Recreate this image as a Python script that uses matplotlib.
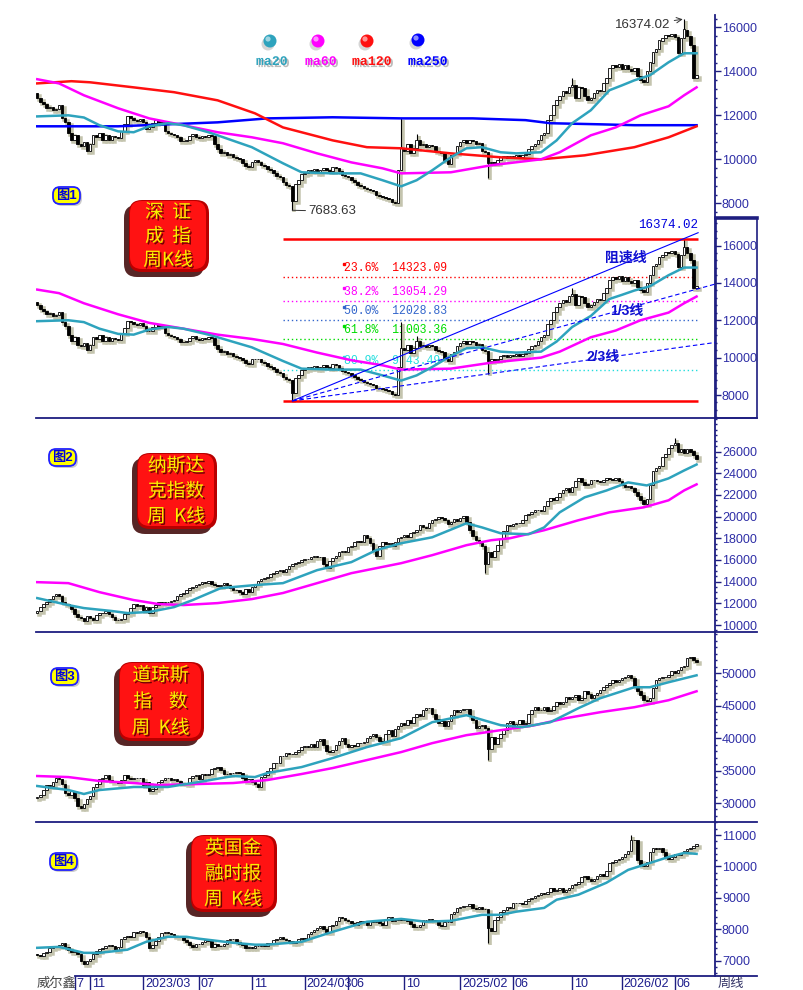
import numpy as np
import matplotlib
matplotlib.use("Agg")
import matplotlib.pyplot as plt
import matplotlib.patheffects as pe
from matplotlib.patches import FancyBboxPatch, Circle, Rectangle
from matplotlib.ticker import MultipleLocator, FixedLocator, FormatStrFormatter
from matplotlib.transforms import offset_copy, blended_transform_factory

plt.rcParams['font.family'] = ['Liberation Sans', 'Noto Sans CJK SC', 'DejaVu Sans']

# weekly closes, week 0 = first week of July 2022
sz_close = [
    12800, 12600, 12500, 12350, 12400, 12250, 12300, 12450, 11900, 11700,
    11200, 10900, 11100, 10700, 10600, 10800, 10400, 10700, 11100, 11000,
    11200, 10900, 11100, 10900, 11050, 11000, 10950, 11300, 11600, 11950,
    11900, 11800, 11750, 11850, 11700, 11400, 11450, 11650, 11800, 11700,
    11750, 11300, 11200, 11150, 11100, 11000, 10850, 10820, 10900, 11050,
    11150, 11000, 10950, 11050, 11000, 11100, 11050, 10700, 10450, 10300,
    10350, 10200, 10250, 10100, 10050, 10000, 9850, 9700, 9650, 9900,
    9950, 9900, 9750, 9700, 9550, 9500, 9400, 9250, 9200, 8950,
    8850, 8800, 8100, 8900, 9050, 9350, 9400, 9500, 9450, 9550,
    9400, 9500, 9600, 9500, 9450, 9650, 9600, 9450, 9300, 9250,
    9200, 9050, 8950, 8850, 8800, 8700, 8650, 8600, 8550, 8400,
    8350, 8300, 8250, 8200, 8050, 8000, 9500, 10530, 10400, 10700,
    10270, 10500, 10900, 10640, 10700, 10550, 10650, 10600, 10400, 10350,
    10300, 9950, 9800, 10200, 10300, 10600, 10800, 10900, 10750, 10900,
    10850, 10700, 10750, 10400, 10350, 9820, 9900, 9850, 9950, 10100,
    10150, 10050, 10150, 10100, 10200, 10100, 10200, 10250, 10450, 10600,
    10700, 10900, 11100, 11200, 11800, 12000, 12450, 12700, 12900, 13100,
    13000, 13300, 13400, 12800, 13300, 13250, 12900, 12700, 12800, 13000,
    13150, 13100, 13450, 13700, 14150, 14300, 14200, 14350, 14100, 14300,
    14100, 14000, 14150, 13800, 13600, 13500, 14000, 14400, 14900, 15000,
    15400, 15500, 15650, 15600, 15700, 15550, 14850, 15500, 15900, 15600,
    15200, 13700, 13850]
sz_open0 = 13000
sz_high = {117: 11900, 122: 11150, 172: 13700, 208: 16374.02}
sz_low = {82: 7683.63, 145: 9140}

nq_close = [
    11300, 11650, 11900, 12100, 12400, 12650, 12900, 12700, 12150, 11900,
    11800, 11450, 11000, 10700, 10600, 10350, 10800, 10650, 10500, 10900,
    11150, 11100, 11300, 11000, 10700, 10500, 10450, 10550, 11050, 11150,
    11600, 11950, 11750, 11800, 11400, 11650, 11100, 11650, 11850, 12100,
    12050, 12100, 12150, 12250, 12300, 12650, 12850, 12950, 13250, 13400,
    13550, 13700, 13800, 14000, 13900, 14050, 13750, 13650, 13600, 13700,
    13850, 13700, 13400, 13250, 13200, 13050, 12900, 13350, 13050, 13550,
    13800, 14100, 14250, 14300, 14450, 14700, 14800, 14950, 15050, 14900,
    15150, 15450, 15650, 15700, 15850, 16000, 16100, 16050, 16250, 16350,
    16250, 16300, 15650, 15300, 15900, 16200, 16400, 16750, 16850, 16750,
    17150, 17300, 17650, 17750, 17700, 18300, 18000, 17550, 16850, 16400,
    17300, 17650, 17450, 17600, 17300, 17700, 18000, 18150, 18300, 18100,
    18450, 18600, 18800, 19200, 19000, 18950, 19400, 19700, 19800, 20000,
    19900, 19650, 19300, 19500, 19800, 19600, 19900, 20050, 19500, 18800,
    18200, 17800, 17600, 17300, 15600, 16700, 16300, 16800, 17400, 17900,
    18700, 19200, 19100, 19300, 19400, 19450, 19650, 20100, 20250, 20400,
    20600, 20650, 20550, 21000, 21450, 21700, 21500, 21800, 22200, 22450,
    22600, 22300, 22700, 23300, 23600, 23200, 22900, 23000, 23400, 23350,
    23300, 23200, 23400, 23550, 23500, 23400, 23600, 23300, 22900, 22700,
    22800, 22600, 22300, 21900, 21500, 21200, 21600, 22900, 24200, 24500,
    24700, 25500, 25800, 26300, 26600, 26800, 26000, 26200, 25900, 26250,
    26000, 25700, 25300]
nq_open0 = 11100
nq_high = {205: 27290}
nq_low = {144: 14780, 196: 21030}

dj_close = [
    31000, 31300, 32000, 32800, 32600, 33300, 33800, 33700, 33000, 31500,
    31300, 31800, 30800, 29600, 29300, 29900, 30600, 31100, 32500, 32900,
    33700, 33800, 34300, 33500, 33300, 33200, 33100, 33600, 34300, 33900,
    33700, 33900, 33900, 33800, 32800, 33300, 31900, 32200, 32500, 33300,
    33500, 33800, 33800, 33600, 33700, 33400, 33100, 33100, 33000, 33800,
    34100, 34300, 33700, 34400, 34300, 34500, 35200, 35400, 35500, 35100,
    34500, 34400, 34600, 34600, 34800, 34600, 33900, 33400, 33700, 33300,
    33000, 32400, 34000, 34300, 35000, 35400, 36200, 36200, 37200, 37300,
    37700, 37500, 37600, 37900, 38100, 38700, 38800, 38600, 39100, 38700,
    39500, 39800, 38900, 38000, 37900, 38200, 39000, 39500, 40000, 39100,
    38700, 38900, 38800, 39200, 39300, 39400, 40000, 40300, 40600, 40200,
    39500, 39400, 40700, 41200, 40300, 41400, 41900, 42300, 42100, 42800,
    42400, 43200, 43800, 43400, 44300, 44600, 44700, 43800, 43000, 42300,
    42700, 41900, 42600, 43500, 44400, 44100, 44300, 44500, 44500, 43400,
    42800, 41500, 41900, 42000, 41600, 38300, 40200, 39100, 40100, 40700,
    41300, 42400, 42700, 41600, 42200, 42800, 42200, 42300, 43800, 44300,
    44800, 44400, 44300, 44800, 44200, 44300, 44900, 45600, 45300, 45600,
    46300, 46000, 46300, 46700, 45900, 46200, 47200, 46800, 46200, 46700,
    47000, 47500, 47900, 48200, 48500, 48900, 48700, 49000, 49200, 49400,
    49700, 49300, 48100, 47200, 46600, 45900, 45800, 46200, 47700, 48900,
    49300, 49400, 49500, 49800, 50300, 50100, 50500, 51000, 51200, 52300,
    52500, 52100, 51700]
dj_open0 = 30800
dj_high = {}
dj_low = {145: 36610}

ft_close = [
    7170, 7160, 7250, 7290, 7420, 7440, 7470, 7500, 7550, 7450,
    7350, 7280, 7300, 7200, 6990, 6900, 7000, 7050, 7200, 7300,
    7380, 7400, 7470, 7500, 7480, 7330, 7450, 7700, 7750, 7800,
    7770, 7900, 7880, 7950, 7920, 7750, 7400, 7500, 7620, 7750,
    7880, 7910, 7870, 7850, 7780, 7750, 7760, 7650, 7600, 7500,
    7450, 7520, 7530, 7600, 7650, 7640, 7430, 7520, 7470, 7460,
    7530, 7650, 7690, 7700, 7600, 7540, 7500, 7400, 7450, 7420,
    7460, 7480, 7500, 7480, 7550, 7570, 7650, 7700, 7750, 7690,
    7650, 7620, 7560, 7610, 7680, 7720, 7700, 7850, 7900, 7980,
    8050, 8100, 8000, 7900, 8100, 8150, 8250, 8400, 8350, 8300,
    8250, 8200, 8150, 8240, 8250, 8220, 8150, 8250, 8240, 8300,
    8200, 8150, 8300, 8380, 8270, 8300, 8320, 8290, 8320, 8250,
    8180, 8080, 8060, 8150, 8300, 8290, 8320, 8300, 8250, 8130,
    8100, 8220, 8240, 8500, 8550, 8670, 8700, 8750, 8730, 8800,
    8680, 8650, 8700, 8640, 8650, 8050, 7960, 8280, 8400, 8550,
    8600, 8700, 8680, 8840, 8830, 8850, 8800, 8900, 8950, 8980,
    9050, 9100, 9150, 9130, 9200, 9300, 9220, 9250, 9300, 9200,
    9250, 9300, 9420, 9450, 9500, 9650, 9700, 9600, 9550, 9600,
    9700, 9750, 9700, 9850, 10100, 10150, 10200, 10250, 10300, 10400,
    10500, 10850, 10850, 10200, 10050, 10000, 10150, 10450, 10600, 10550,
    10580, 10450, 10300, 10250, 10300, 10380, 10350, 10420, 10500, 10550,
    10600, 10650, 10720]
ft_open0 = 7200
ft_high = {191: 11000}
ft_low = {145: 7570}

# moving averages (week, value)
sz_wk_ma20 = [0, 10, 15, 20, 26, 31, 36, 42, 47, 55, 58, 69, 79, 85, 95, 104, 111, 117, 122, 127,
              133, 138, 143, 149, 154, 162, 167, 172, 178, 184, 188, 192, 197, 203, 208, 212]
sz_ma20 = [11950, 12000, 11900, 11550, 11270, 11230, 11500, 11640, 11550, 11230, 11090, 10550, 9820,
           9410, 9360, 9360, 9050, 8770, 9050, 9500, 10090, 10500, 10550, 10320, 10270, 10320, 10860,
           11640, 12230, 13140, 13360, 13590, 13820, 14410, 14820, 14820]
sz_wk_ma60 = [0, 7, 15, 26, 36, 47, 58, 69, 79, 90, 101, 111, 117, 133, 146, 162, 168, 178, 186, 194,
              203, 208, 212]
sz_ma60 = [13640, 13450, 12910, 12320, 11860, 11550, 11230, 11000, 10730, 10270, 9860, 9590, 9360,
           9410, 9730, 10000, 10320, 11090, 11450, 12000, 12410, 12910, 13270]
sz_wk_ma120 = [0, 11, 17, 31, 44, 58, 70, 79, 95, 106, 117, 133, 149, 162, 176, 192, 203, 212]
sz_ma120 = [13450, 13550, 13500, 13270, 13050, 12680, 12090, 11450, 10860, 10550, 10500, 10270,
            10090, 10000, 10180, 10550, 11000, 11500]
sz_wk_ma250 = [0, 26, 42, 58, 74, 95, 117, 140, 157, 165, 181, 192, 212]
sz_ma250 = [11500, 11500, 11590, 11680, 11860, 11910, 11860, 11860, 11780, 11640, 11590, 11550, 11550]

nq_wk_ma20 = [0, 10, 15, 24, 29, 36, 44, 50, 59, 70, 79, 90, 101, 109, 117, 127, 138, 143, 149, 158,
              163, 168, 176, 183, 190, 196, 203, 208, 212]
nq_ma20 = [12480, 11840, 11560, 11290, 11100, 11200, 11650, 12300, 13400, 13680, 13860, 15060, 15800,
           16900, 17540, 18090, 19380, 19000, 18460, 18370, 19000, 20390, 21770, 22400, 23150, 22870,
           23520, 24250, 24800]
nq_wk_ma60 = [0, 10, 20, 31, 39, 47, 58, 69, 79, 90, 101, 117, 127, 138, 146, 152, 163, 174, 184, 195,
              203, 208, 212]
nq_ma60 = [13950, 13860, 13030, 12300, 11930, 11840, 12020, 12390, 12950, 13860, 14780, 15700, 16440,
           17360, 17820, 18000, 18740, 19660, 20390, 20850, 21500, 22410, 22970]

dj_wk_ma20 = [0, 10, 15, 20, 31, 42, 52, 63, 70, 74, 85, 95, 106, 117, 127, 138, 149, 156, 165, 174,
              181, 192, 197, 203, 212]
dj_ma20 = [32620, 32000, 31390, 32000, 32470, 32470, 33240, 34160, 34000, 34620, 35540, 36930, 38620,
           40000, 42460, 43540, 42000, 41700, 42460, 44620, 46150, 47850, 47850, 48620, 49690]
dj_wk_ma60 = [0, 10, 20, 31, 39, 52, 63, 74, 85, 95, 106, 117, 127, 138, 149, 160, 170, 181, 192, 203, 212]
dj_ma60 = [34160, 34000, 33390, 33080, 32770, 32930, 33080, 33540, 34470, 35390, 36620, 37850, 39230,
           40460, 41230, 42000, 43080, 44000, 44770, 45850, 47230]

ft_wk_ma20 = [0, 7, 15, 20, 29, 35, 42, 48, 52, 63, 70, 74, 85, 95, 106, 117, 125, 133, 143, 149,
              154, 163, 167, 174, 183, 190, 197, 203, 208, 212]
ft_ma20 = [7410, 7440, 7250, 7250, 7350, 7600, 7760, 7760, 7700, 7570, 7510, 7510, 7600, 7920, 8240,
           8330, 8240, 8270, 8460, 8460, 8560, 8680, 8940, 9100, 9480, 9890, 10110, 10300, 10430, 10400]

fib_pcts = [23.6, 38.2, 50.0, 61.8, 80.9]
fib_colors = ['#ff0000', '#ff00ff', '#3366cc', '#00dd00', '#22dddd']
fib_x0 = 79

sz_ticks = [8000, 10000, 12000, 14000, 16000]
nq_ticks = [10000, 12000, 14000, 16000, 18000, 20000, 22000, 24000, 26000]
dj_ticks = [30000, 35000, 40000, 45000, 50000]
ft_ticks = [7000, 8000, 9000, 10000, 11000]

xt_weeks = [12, 17, 34, 52, 69, 86, 100, 118, 136, 153, 172, 188, 205]
xt_labels = ['7', '11', '2023/03', '07', '11', '2024/03', '06', '10', '2025/02', '06', '10', '2026/02', '06']

C20, C60, C120, C250 = '#2ea3bd', '#ff00ff', '#ff1010', '#0000ff'
NAVY = '#1e1e80'
TICKC = '#2e2ea6'
SHADOW = '#c4c4ae'

W, H = 804, 990
L, R = 36, 715
PXW = 3.11
fig = plt.figure(figsize=(W / 100, H / 100), dpi=100)


def panel(top, bot, ref, ticks, minor):
    (v1, y1), (v2, y2) = ref
    per = (v1 - v2) / (y2 - y1)
    ax = fig.add_axes([L / W, 1 - bot / H, (R - L) / W, (bot - top) / H])
    ax.set_xlim(-0.4, -0.4 + (R - L) / PXW)
    ax.set_ylim(v2 - (bot - y2) * per, v1 + (y1 - top) * per)
    ax.set_autoscale_on(False)
    ax.patch.set_alpha(0)
    for s in ['left', 'top', 'bottom']:
        ax.spines[s].set_visible(False)
    ax.spines['right'].set_color(NAVY)
    ax.spines['right'].set_linewidth(1.3)
    ax.set_xticks([])
    ax.yaxis.tick_right()
    ax.yaxis.set_major_locator(FixedLocator(ticks))
    ax.yaxis.set_minor_locator(MultipleLocator(minor))
    ax.yaxis.set_major_formatter(FormatStrFormatter('%d'))
    ax.tick_params(axis='y', which='major', direction='out', length=4, width=1, color=NAVY,
                   labelsize=9, labelcolor=TICKC, pad=1)
    ax.tick_params(axis='y', which='minor', direction='out', length=1.5, width=1, color=NAVY)
    return ax


def candles(ax, close, open0, high, low):
    c = np.asarray(close, float)
    o = np.concatenate([[open0], c[:-1]])
    h = np.maximum(o, c)
    lo = np.minimum(o, c)
    for k, v in high.items():
        h[k] = v
    for k, v in low.items():
        lo[k] = v
    x = np.arange(len(c))
    sh = offset_copy(ax.transData, fig=fig, x=2, y=-2, units='dots')
    ax.vlines(x, lo, h, colors=SHADOW, lw=2.6, transform=sh, zorder=2)
    ax.bar(x, np.abs(c - o), bottom=np.minimum(o, c), width=0.8, color=SHADOW, edgecolor=SHADOW,
           lw=1.8, transform=sh, zorder=2)
    ax.vlines(x, lo, h, colors='black', lw=0.8, zorder=3)
    ax.bar(x, np.abs(c - o), bottom=np.minimum(o, c), width=0.8,
           color=np.where(c >= o, 'white', 'black'), edgecolor='black', lw=0.6, zorder=4)
    return h, lo


ax1 = panel(15, 218, ((16000, 27.3), (8000, 203.3)), sz_ticks, 400)
ax1b = panel(218, 418, ((16000, 245.5), (8000, 395)), sz_ticks, 400)
ax2 = panel(418, 632, ((26000, 451.5), (10000, 625)), nq_ticks, 500)
ax3 = panel(632, 822, ((50000, 673.3), (30000, 803)), dj_ticks, 1000)
ax4 = panel(822, 976, ((11000, 835), (7000, 960.7)), ft_ticks, 200)

# panel 1
sz_h, sz_l = candles(ax1, sz_close, sz_open0, sz_high, sz_low)
ax1.plot(sz_wk_ma250, sz_ma250, color=C250, lw=1.8, zorder=5)
ax1.plot(sz_wk_ma120, sz_ma120, color=C120, lw=1.8, zorder=5)
ax1.plot(sz_wk_ma60, sz_ma60, color=C60, lw=1.8, zorder=5)
ax1.plot(sz_wk_ma20, sz_ma20, color=C20, lw=1.8, zorder=5)
k_hi, k_lo = int(np.argmax(sz_h)), int(np.argmin(sz_l))
hi, lo = sz_h[k_hi], sz_l[k_lo]
ax1.annotate(f'{hi:.2f}', xy=(k_hi, hi), xytext=(-14, -6), textcoords='offset pixels',
             ha='right', va='center', fontsize=9.5, color='#333333',
             arrowprops=dict(arrowstyle='->', color='#333333', lw=0.7, shrinkA=1, shrinkB=1))
ax1.annotate(f'{lo:.2f}', xy=(k_lo, lo), xytext=(16, -1), textcoords='offset pixels',
             ha='left', va='center', fontsize=9.5, color='#333333',
             arrowprops=dict(arrowstyle='-', color='#333333', lw=0.7, shrinkA=0, shrinkB=0))

# panel 1b: golden section + speed resistance lines
candles(ax1b, sz_close, sz_open0, sz_high, sz_low)
ax1b.plot(sz_wk_ma60, sz_ma60, color=C60, lw=1.8, zorder=5)
ax1b.plot(sz_wk_ma20, sz_ma20, color=C20, lw=1.8, zorder=5)
x_end = len(sz_close) - 0.5
ax1b.hlines([hi, lo], fib_x0, x_end, colors='#ff0000', lw=1.8, zorder=3)
rng = hi - lo
for p, col in zip(fib_pcts, fib_colors):
    v = hi - rng * p / 100
    ax1b.hlines(v, fib_x0, x_end, colors=col, lw=1, linestyles=(0, (1, 2)), zorder=1)
    ax1b.text(98.6, v, f'{p:.1f}%  {v:.2f}', color=col, fontsize=8.3, family='Liberation Mono',
              va='bottom', zorder=1, transform=offset_copy(ax1b.transData, fig=fig, y=3, units='dots'))
    ax1b.plot([98.6], [v], marker='s', ms=1.5, color=col, zorder=1,
              transform=offset_copy(ax1b.transData, fig=fig, y=13, units='dots'))
slope = rng / (k_hi - k_lo)
ax1b.plot([k_lo, x_end], [lo, lo + slope * (x_end - k_lo)], color='#0000ff', lw=0.8, zorder=6)
x_far = ax1b.get_xlim()[1]
for frac in (2 / 3, 1 / 3):
    s = rng * frac / (k_hi - k_lo)
    ax1b.plot([k_lo, x_far], [lo, lo + s * (x_far - k_lo)], color='#0000ff', lw=0.8,
              ls=(0, (4, 2.5)), zorder=6)
ax1b.annotate(f'{hi:.2f}', xy=(k_hi, hi), xytext=(14, 14), textcoords='offset pixels',
              ha='right', va='center', fontsize=9, color='#0000dd', family='Liberation Mono')

# panel 2-4
candles(ax2, nq_close, nq_open0, nq_high, nq_low)
ax2.plot(nq_wk_ma60, nq_ma60, color=C60, lw=1.8, zorder=5)
ax2.plot(nq_wk_ma20, nq_ma20, color=C20, lw=1.8, zorder=5)
candles(ax3, dj_close, dj_open0, dj_high, dj_low)
ax3.plot(dj_wk_ma60, dj_ma60, color=C60, lw=1.8, zorder=5)
ax3.plot(dj_wk_ma20, dj_ma20, color=C20, lw=1.8, zorder=5)
candles(ax4, ft_close, ft_open0, ft_high, ft_low)
ax4.plot(ft_wk_ma20, ft_ma20, color=C20, lw=1.8, zorder=5)

# overlay in pixel coordinates
ov = fig.add_axes([0, 0, 1, 1])
ov.set_xlim(0, W)
ov.set_ylim(H, 0)
ov.axis('off')
ov.patch.set_alpha(0)

for y in (418, 632, 822):
    ov.plot([L, 757], [y, y], color=NAVY, lw=1.3)
ov.plot([75, 757], [976, 976], color=NAVY, lw=1.3)
ov.add_patch(Rectangle((716, 218), 41, 200, fill=False, ec=NAVY, lw=1.2))
ov.plot([716, 757], [218, 218], color=NAVY, lw=2.6)

trans = blended_transform_factory(ax4.transData, ov.transData)
ov.vlines(xt_weeks, 976, 990, colors=NAVY, lw=1, transform=trans)
for k, lab in zip(xt_weeks, xt_labels):
    ov.text(k + 0.6, 984, lab, transform=trans, ha='left', va='center', fontsize=9, color='#1c1c8c')
ov.text(37, 984, '威尔鑫', ha='left', va='center', fontsize=9.5, color='#444444')
ov.text(718, 984, '周线', ha='left', va='center', fontsize=9.5, color='#333366')

# legend balls
for (bx, by), (tx, lab), col in zip([(270, 41), (318, 41), (367, 41), (418, 40)],
                                     [(272, 'ma20'), (321, 'ma60'), (372, 'ma120'), (428, 'ma250')],
                                     [C20, C60, C120, C250]):
    ov.add_patch(Circle((bx - 2, by + 3), 6.5, fc='#888888', alpha=0.35, ec='none'))
    ov.add_patch(Circle((bx, by), 6.5, fc=col, ec='none'))
    ov.add_patch(Circle((bx - 2, by - 2), 2.6, fc='white', alpha=0.55, ec='none'))
    ov.text(tx, 62, lab, ha='center', va='center', fontsize=9.5, color=col, family='Liberation Mono',
            weight='bold', path_effects=[pe.withSimplePatchShadow(offset=(1.5, -1.5),
                                                                  shadow_rgbFace='#777777', alpha=0.5)])

# speed line labels
for x, y, s in [(605, 258, '阻速线'), (610, 311, '1/3线'), (587, 357, '2/3线')]:
    ov.text(x, y, s, ha='left', va='center', fontsize=10, color='#1010d0', weight='bold')


def badge(x, y, s):
    ov.add_patch(FancyBboxPatch((x + 2, y + 2), 27, 17, boxstyle='round,pad=0,rounding_size=7',
                                fc='#999999', ec='none', alpha=0.5))
    ov.add_patch(FancyBboxPatch((x, y), 27, 17, boxstyle='round,pad=0,rounding_size=7',
                                fc='#ffff00', ec='#2020ff', lw=1.3))
    ov.text(x + 13.5, y + 9, s, ha='center', va='center', fontsize=9.5, color='#0000dd', weight='bold')


def redbox(x, y, w, h, lines):
    ov.add_patch(FancyBboxPatch((x - 5, y + 5), w, h, boxstyle='round,pad=0,rounding_size=13',
                                fc='#3a0000', ec='none', alpha=0.85))
    ov.add_patch(FancyBboxPatch((x, y), w, h, boxstyle='round,pad=0,rounding_size=13',
                                fc='#b80000', ec='none'))
    ov.add_patch(FancyBboxPatch((x + 1, y + 1), w - 4, h - 4, boxstyle='round,pad=0,rounding_size=12',
                                fc='#ff1212', ec='none'))
    n = len(lines)
    for i, s in enumerate(lines):
        ov.text(x + w / 2 - 1, y + h * (i + 0.5) / n, s, ha='center', va='center', fontsize=13.5,
                color='#f8f000', family=['Noto Sans CJK SC', 'DejaVu Sans'], weight='medium',
                path_effects=[pe.withSimplePatchShadow(offset=(1.2, -1.2), shadow_rgbFace='#5a0000',
                                                       alpha=0.9)])


badge(53, 187, '图1')
badge(49, 449, '图2')
badge(51, 668, '图3')
badge(50, 853, '图4')
redbox(129, 200, 80, 72, ['深  证', '成  指', '周K线'])
redbox(137, 453, 80, 76, ['纳斯达', '克指数', '周  K线'])
redbox(119, 662, 85, 79, ['道琼斯', '指    数', '周  K线'])
redbox(191, 835, 86, 77, ['英国金', '融时报', '周  K线'])

fig.savefig('out.png', dpi=100)
